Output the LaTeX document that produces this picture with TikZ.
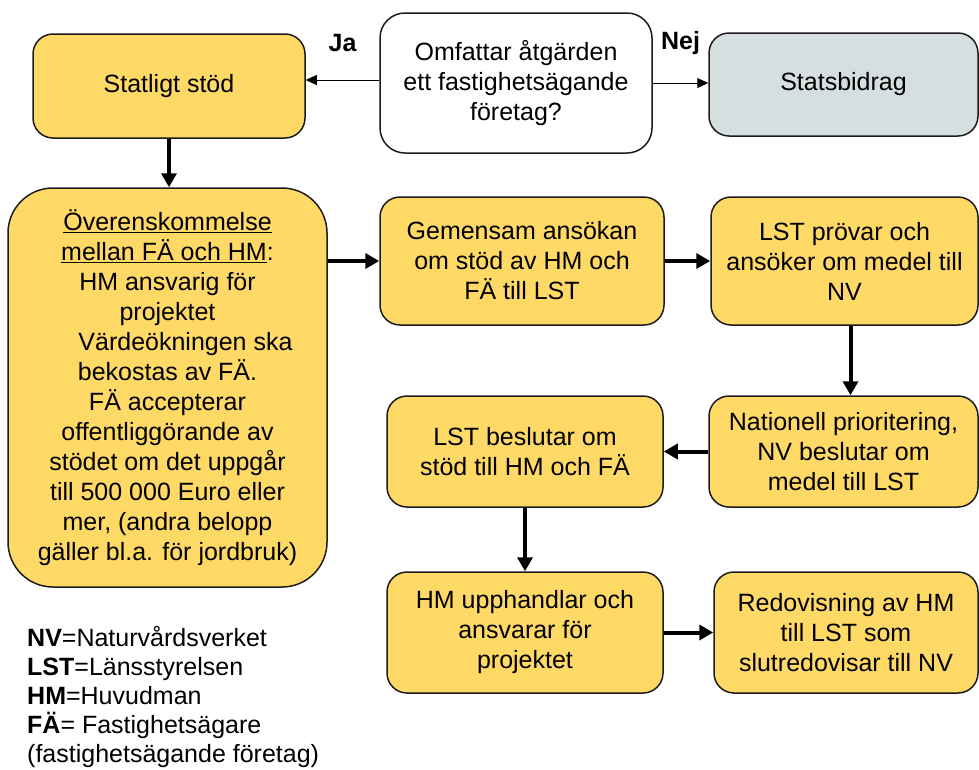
\documentclass[tikz,border=0pt]{standalone}
\usepackage{fontspec}
\setmainfont{Liberation Sans}
\usetikzlibrary{positioning,arrows.meta}
\definecolor{gul}{HTML}{FFD966}
\definecolor{gra}{HTML}{D5DFDF}
\definecolor{kant}{HTML}{1C1C1C}

\begin{document}
\begin{tikzpicture}[>={Triangle[width=15pt,length=14pt]}, font=\fontsize{25}{30}\selectfont,
	box/.style={draw=kant, line width=1.5pt, fill=gul, rounded corners=20pt, align=center, inner sep=0pt},
	tjock/.style={->, line width=4pt},
	tunn/.style={-{Triangle[width=10pt,length=11pt]}, line width=1pt},
	lbl/.style={inner sep=0pt, font=\fontsize{25}{30}\selectfont\bfseries}]
	\useasboundingbox (0pt,0pt) rectangle (979pt,-769pt);
	\draw (169.0pt, -86.0pt)node[box, minimum width=272pt, minimum height=104pt](stod){Statligt stöd};
	\draw (516.0pt, -83.0pt)node[box, fill=white, rounded corners=25pt, minimum width=272pt, minimum height=140pt](fraga){Omfattar åtgärden\\ett fastighetsägande\\företag?};
	\draw (843.5pt, -84.5pt)node[box, fill=gra, minimum width=269pt, minimum height=103pt](bidrag){Statsbidrag};
	\draw (167.5pt, -387.5pt)node[box, rounded corners=45pt, minimum width=319pt, minimum height=399pt](overens){\underline{Överenskommelse}\\\underline{mellan FÄ och HM}:\\HM ansvarig för\\projektet\\\hspace*{36pt}Värdeökningen ska\\bekostas av FÄ.\\FÄ accepterar\\offentliggörande av\\stödet om det uppgår\\till 500 000 Euro eller\\mer, (andra belopp\\gäller bl.a. för jordbruk)};
	\draw (522.0pt, -261.0pt)node[box, minimum width=284pt, minimum height=128pt](ansokan){Gemensam ansökan\\om stöd av HM och\\FÄ till LST};
	\draw (844.5pt, -261.0pt)node[box, minimum width=267pt, minimum height=128pt](provar){LST prövar och\\ansöker om medel till\\NV};
	\draw (843.5pt, -451.5pt)node[box, minimum width=269pt, minimum height=111pt](prio){Nationell prioritering,\\NV beslutar om\\medel till LST};
	\draw (525.0pt, -451.5pt)node[box, minimum width=276pt, minimum height=111pt](beslut){LST beslutar om\\stöd till HM och FÄ};
	\draw (525.0pt, -632.5pt)node[box, minimum width=276pt, minimum height=121pt](upph){HM upphandlar och\\ansvarar för\\projektet};
	\draw (846.0pt, -632.5pt)node[box, minimum width=264pt, minimum height=121pt](redov){Redovisning av HM\\till LST som\\slutredovisar till NV};
	\draw (27.0pt, -626.0pt)node[anchor=north west, align=left, inner sep=0pt, font=\fontsize{25}{29}\selectfont](forkort){\textbf{NV}=Naturvårdsverket\\\textbf{LST}=Länsstyrelsen\\\textbf{HM}=Huvudman\\\textbf{FÄ}= Fastighetsägare\\(fastighetsägande företag)};
	% ja / nej
	\path[tunn] ([yshift=3pt]fraga.west) edge node[lbl, above=28pt](ja){Ja} ([yshift=3pt]fraga.west -| stod.east);
	\path[tunn] (fraga.east) edge node[lbl, above=28pt](nej){Nej} (fraga.east -| bidrag.west);
	% flodet
	\path[tjock] (stod.south) edge (stod.south |- overens.north);
	\path[tjock] (overens.east |- ansokan.west) edge (ansokan.west);
	\path[tjock] (ansokan) edge (provar);
	\path[tjock] ([xshift=6pt]provar.south) edge ([xshift=6pt]provar.south |- prio.north);
	\path[tjock] (prio) edge (beslut);
	\path[tjock] (beslut) edge (upph);
	\path[tjock] (upph) edge (redov);
\end{tikzpicture}
\end{document}
